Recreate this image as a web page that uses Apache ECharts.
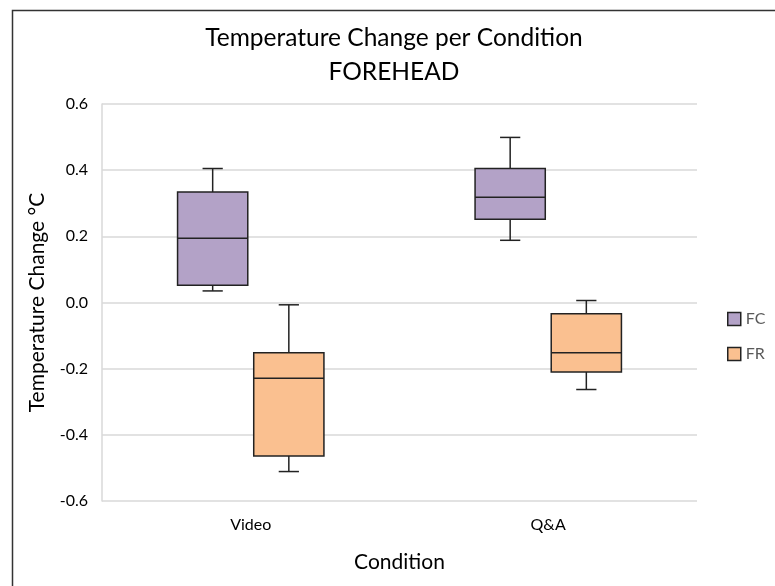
<!DOCTYPE html>
<html>
<head>
<meta charset="utf-8">
<script src="https://cdn.jsdelivr.net/npm/echarts@6/dist/echarts.min.js"></script>
<style>
  html, body { margin: 0; padding: 0; background: #fff; }
  #chart { width: 775px; height: 586px; }
</style>
</head>
<body>
<div id="chart"></div>
<script>
// Conditions on the x axis
var categories = ['Video', 'Q&A'];
// Box statistics per condition: [min, Q1, median, Q3, max]
var fcStats = [
  [0.035, 0.052, 0.194, 0.334, 0.405],
  [0.188, 0.252, 0.318, 0.405, 0.499]
];
var frStats = [
  [-0.511, -0.464, -0.229, -0.152, -0.007],
  [-0.263, -0.210, -0.152, -0.034, 0.006]
];
var yTicks = [-0.6, -0.4, -0.2, 0.0, 0.2, 0.4, 0.6];

var FONT = 'Lato, "Open Sans", sans-serif';

function toItems(stats) {
  return stats.map(function (s, i) { return [i].concat(s); });
}

// Draws one box with whiskers; offsetFrac shifts it within the category band
function makeRenderer(offsetFrac) {
  return function (params, api) {
    var band = api.size([1, 0])[0];
    var idx = api.value(0);
    var cx = api.coord([idx, 0])[0] + band * offsetFrac;
    var half = band * 0.118;
    var capHalf = band * 0.034;
    var yMin = api.coord([idx, api.value(1)])[1];
    var yQ1 = api.coord([idx, api.value(2)])[1];
    var yMed = api.coord([idx, api.value(3)])[1];
    var yQ3 = api.coord([idx, api.value(4)])[1];
    var yMax = api.coord([idx, api.value(5)])[1];
    var lineStyle = { stroke: '#222', lineWidth: 1.5, fill: null };
    return {
      type: 'group',
      children: [
        { type: 'line', shape: { x1: cx, y1: yQ3, x2: cx, y2: yMax }, style: lineStyle },
        { type: 'line', shape: { x1: cx, y1: yQ1, x2: cx, y2: yMin }, style: lineStyle },
        { type: 'line', shape: { x1: cx - capHalf, y1: yMax, x2: cx + capHalf, y2: yMax }, style: lineStyle },
        { type: 'line', shape: { x1: cx - capHalf, y1: yMin, x2: cx + capHalf, y2: yMin }, style: lineStyle },
        { type: 'rect', shape: { x: cx - half, y: yQ3, width: half * 2, height: yQ1 - yQ3 },
          style: { fill: api.visual('color'), stroke: '#222', lineWidth: 1.5 } },
        { type: 'line', shape: { x1: cx - half, y1: yMed, x2: cx + half, y2: yMed }, style: lineStyle }
      ]
    };
  };
}

var chart = echarts.init(document.getElementById('chart'), null, { renderer: 'canvas' });
chart.setOption({
  backgroundColor: '#fff',
  animation: false,
  graphic: [
    { type: 'rect', left: 10, top: 8, shape: { width: 800, height: 600 },
      style: { fill: null, stroke: '#333', lineWidth: 1.5 }, silent: true, z: 0 },
    { type: 'text', x: 394, y: 21,
      style: { text: 'Temperature Change per Condition\nFOREHEAD', font: '24.5px ' + FONT,
               fill: '#000', align: 'center', textAlign: 'center', lineHeight: 34 } }
  ],
  legend: {
    orient: 'vertical',
    left: 722,
    top: 306,
    itemWidth: 13,
    itemHeight: 13,
    itemGap: 19,
    icon: 'rect',
    textStyle: { color: '#595959', fontSize: 16, fontFamily: FONT },
    data: [
      { name: 'FC', itemStyle: { borderColor: '#222', borderWidth: 1.5 } },
      { name: 'FR', itemStyle: { borderColor: '#222', borderWidth: 1.5 } }
    ]
  },
  grid: { left: 102, right: 78, top: 104, bottom: 85 },
  xAxis: {
    type: 'category',
    data: categories,
    name: 'Condition',
    nameLocation: 'middle',
    nameGap: 51,
    nameTextStyle: { fontSize: 21, color: '#000', fontFamily: FONT },
    axisLine: { show: false },
    axisTick: { show: false },
    axisLabel: { fontSize: 16, color: '#000', fontFamily: FONT, margin: 16 }
  },
  yAxis: {
    type: 'value',
    min: -0.6,
    max: 0.6,
    interval: 0.2,
    name: 'Temperature Change °C',
    nameLocation: 'middle',
    nameGap: 54,
    nameTextStyle: { fontSize: 21, color: '#000', fontFamily: FONT },
    axisLine: { show: true, lineStyle: { color: '#d9d9d9', width: 1.5 } },
    axisTick: { show: false },
    splitLine: { lineStyle: { color: '#d9d9d9', width: 1.5 } },
    axisLabel: {
      fontSize: 16, color: '#000', fontFamily: FONT, margin: 14,
      formatter: function (v) {
        var t = yTicks.reduce(function (a, b) { return Math.abs(b - v) < Math.abs(a - v) ? b : a; });
        return t.toFixed(1);
      }
    }
  },
  series: [
    {
      name: 'FC',
      type: 'custom',
      itemStyle: { color: '#b3a2c7' },
      encode: { x: 0, y: [1, 2, 3, 4, 5] },
      renderItem: makeRenderer(-0.128),
      data: toItems(fcStats)
    },
    {
      name: 'FR',
      type: 'custom',
      itemStyle: { color: '#fac090' },
      encode: { x: 0, y: [1, 2, 3, 4, 5] },
      renderItem: makeRenderer(0.128),
      data: toItems(frStats)
    }
  ]
});
</script>
</body>
</html>
